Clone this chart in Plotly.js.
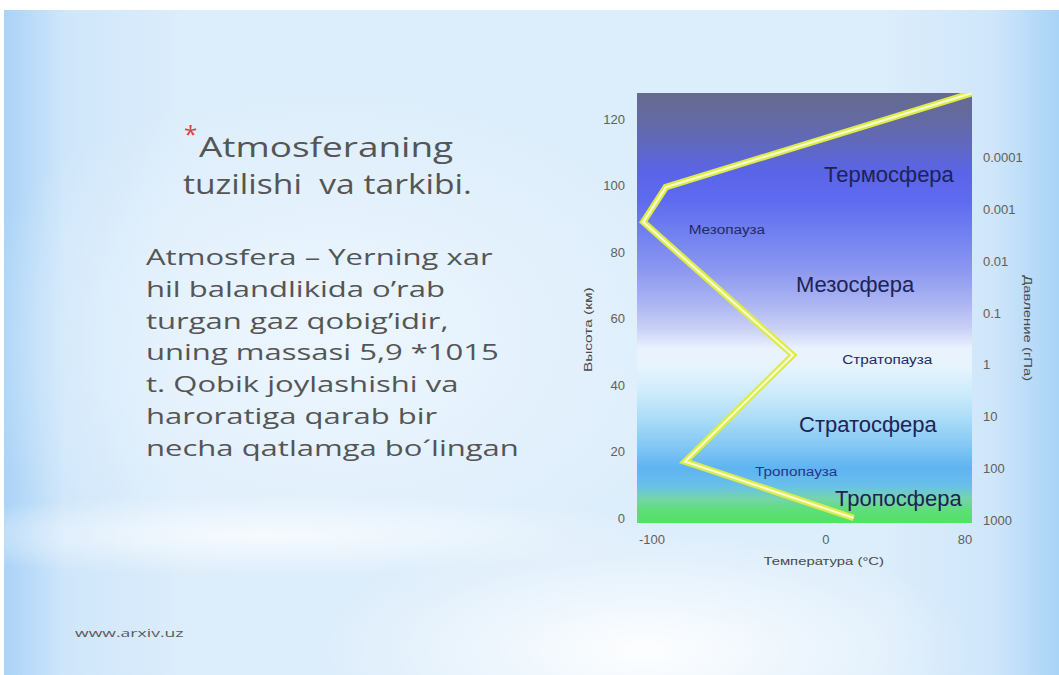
<!DOCTYPE html>
<html>
<head>
<meta charset="utf-8">
<script src="https://cdn.plot.ly/plotly-3.0.1.min.js"></script>
<style>
  html, body { margin: 0; padding: 0; width: 1059px; height: 675px; overflow: hidden; background: #ffffff; }
  #slide {
    position: absolute; left: 4px; top: 10px; width: 1055px; height: 665px;
    background:
      radial-gradient(ellipse 330px 120px at 640px 640px, rgba(255,255,255,0.95), rgba(255,255,255,0) 100%),
      radial-gradient(ellipse 420px 40px at 260px 525px, rgba(255,255,255,0.7), rgba(255,255,255,0) 100%),
      radial-gradient(ellipse 380px 260px at 330px 330px, rgba(240,248,255,0.85), rgba(240,248,255,0) 100%),
      linear-gradient(to right, #a9d3f7 0px, #cfe6fa 60px, #dcedfb 180px, #dcedfb 880px, #cfe6fa 990px, #a9d3f7 1055px);
  }
  #chart { position: absolute; left: 0; top: 0; width: 1059px; height: 675px; }
</style>
</head>
<body>
<div id="slide"></div>
<div id="chart"></div>
<script>
// Temperature profile of the atmosphere (altitude in km, temperature in °C)
const altitudeKm = [0, 17, 49, 89, 99.5, 131];
const temperatureC = [16, -81, -19, -105, -92, 104];

// Layer names and where they are written on the chart
const layerNames = ['Термосфера', 'Мезосфера', 'Стратосфера', 'Тропосфера'];
const layerTemps = [36.5, 17.2, 24.7, 42.0];
const layerAlts = [103.2, 70.1, 28.0, 6.0];

const pauseNames = ['Мезопауза', 'Стратопауза', 'Тропопауза'];
const pauseTemps = [-56.9, 35.6, -16.7];
const pauseAlts = [86.6, 47.5, 13.8];

// Axis ticks
const altTicks = [0, 20, 40, 60, 80, 100, 120];
const tempTicks = [-100, 0, 80];
const tempTickText = ['-100', '0', '80'];
const pressureTicks = [0.0001, 0.001, 0.01, 0.1, 1, 10, 100, 1000];
const pressureTickText = ['0.0001', '0.001', '0.01', '0.1', '1', '10', '100', '1000'];

// Sky colour by altitude for the backdrop
const bandAlts = [-3, 2, 6, 10, 15, 22, 30, 38, 46, 51, 57, 65, 75, 86, 96, 104, 112, 120, 131];
const bandColors = ['#4fe064', '#5cdf74', '#74d4ac', '#68c0ea', '#5fb3f1', '#84c8f5', '#abdcf8',
  '#cdecfb', '#e7f4fd', '#e9f2fd', '#c9d0f6', '#abb4f2', '#8b97f0', '#7180f0', '#5e6af0',
  '#5a64e8', '#6068c2', '#646aa2', '#666a88'];

// Slide text
const titleLines = ['Atmosferaning', 'tuzilishi  va tarkibi.'];
const bodyLines = [
  'Atmosfera – Yerning xar',
  'hil balandlikida o’rab',
  'turgan gaz qobig’idir,',
  'uning massasi 5,9 *1015',
  't. Qobik joylashishi va',
  'haroratiga qarab bir',
  'necha qatlamga bo´lingan'
];
const footerText = 'www.arxiv.uz';

// Plot frame in page pixels
const W = 1059, H = 675;
const frame = { l: 637, r: 972, t: 93, b: 523 };
const px = x => (x - frame.l) / (frame.r - frame.l);
const py = y => (frame.b - y) / (frame.b - frame.t);

const zMin = bandAlts[0], zMax = bandAlts[bandAlts.length - 1];
const colorscale = bandAlts.map((a, i) => [(a - zMin) / (zMax - zMin), bandColors[i]]);

const traces = [
  {
    type: 'heatmap',
    x: [-115, 90],
    y: bandAlts,
    z: bandAlts.map(a => [a, a]),
    zmin: zMin, zmax: zMax,
    colorscale: colorscale,
    zsmooth: 'best',
    showscale: false,
    hoverinfo: 'skip'
  },
  {
    type: 'scatter', mode: 'lines',
    x: temperatureC, y: altitudeKm,
    line: { color: '#dcec46', width: 6.5 },
    hoverinfo: 'skip', showlegend: false
  },
  {
    type: 'scatter', mode: 'lines',
    x: temperatureC, y: altitudeKm,
    line: { color: '#f7f9cf', width: 2.2 },
    hoverinfo: 'skip', showlegend: false
  },
  // pressure scale on the right (no marks of its own)
  {
    type: 'scatter', mode: 'lines',
    x: [null], y: [1], yaxis: 'y2',
    hoverinfo: 'skip', showlegend: false
  }
];

const slideFont = 'Open Sans, Noto Sans, sans-serif';
const chartFont = 'Liberation Sans, Arial, sans-serif';
const textColor = '#555555';
const annotations = [];
const widen = {};   // annotation index -> horizontal widening of its text

function addNote(note, factor) {
  if (factor) widen[annotations.length] = factor;
  annotations.push(Object.assign({ showarrow: false }, note));
}

function slideText(text, x, y, size, color, factor) {
  addNote({
    xref: 'paper', yref: 'paper', x: px(x), y: py(y),
    xanchor: 'left', yanchor: 'middle', align: 'left',
    text: text, font: { family: slideFont, size: size, color: color }
  }, factor);
}

addNote({
  xref: 'paper', yref: 'paper', x: px(182), y: py(133),
  xanchor: 'left', yanchor: 'middle', text: '*',
  font: { family: slideFont, size: 24, color: '#d2453f' }
});
slideText(titleLines[0], 197, 146, 28, textColor, 1.32);
slideText(titleLines[1], 181, 183, 28, textColor, 1.2);
bodyLines.forEach((line, i) => slideText(line, 144, 256 + i * 31.8, 22, textColor, 1.41));
slideText(footerText, 73, 632, 11, '#5a5a5a', 1.6);

layerNames.forEach((name, i) => addNote({
  x: layerTemps[i], y: layerAlts[i], xref: 'x', yref: 'y',
  text: name, xanchor: 'center', yanchor: 'middle', align: 'center',
  font: { family: chartFont, size: 22, color: '#1c2356' }
}));
pauseNames.forEach((name, i) => addNote({
  x: pauseTemps[i], y: pauseAlts[i], xref: 'x', yref: 'y',
  text: name, xanchor: 'center', yanchor: 'middle', align: 'center',
  font: { family: chartFont, size: 12, color: i === 2 ? '#24368a' : '#1f2a66' }
}, 1.28));

// Axis titles
const titleFont = { family: chartFont, size: 11, color: '#4a4a4a' };
addNote({
  xref: 'paper', yref: 'paper', x: px(588), y: py(330), textangle: -90,
  xanchor: 'center', yanchor: 'middle',
  text: 'Высота (км)', align: 'center', font: titleFont
}, 1.4);
addNote({
  xref: 'paper', yref: 'paper', x: px(1028), y: py(328), textangle: 90,
  xanchor: 'center', yanchor: 'middle',
  text: 'Давление (гПа)', align: 'center', font: titleFont
}, 1.35);
addNote({
  xref: 'paper', yref: 'paper', x: px(823), y: py(561),
  xanchor: 'center', yanchor: 'middle',
  text: 'Температура (°C)', align: 'center', font: titleFont
}, 1.35);

const tickFont = { family: chartFont, size: 13, color: '#606060' };
const layout = {
  width: W, height: H,
  margin: { l: frame.l, r: W - frame.r, t: frame.t, b: H - frame.b, pad: 0 },
  paper_bgcolor: 'rgba(0,0,0,0)',
  plot_bgcolor: 'rgba(0,0,0,0)',
  showlegend: false,
  xaxis: {
    range: [-108.6, 84], tickvals: tempTicks, ticktext: tempTickText,
    showgrid: false, zeroline: false, showline: false, ticks: '',
    ticklabelstandoff: 7, tickfont: tickFont, fixedrange: true
  },
  yaxis: {
    range: [-1.5, 127.8], tickvals: altTicks,
    showgrid: false, zeroline: false, showline: false, ticks: '',
    ticklabelstandoff: 11, tickfont: tickFont, fixedrange: true
  },
  yaxis2: {
    overlaying: 'y', side: 'right', type: 'log', range: [3.04, -5.23],
    tickvals: pressureTicks, ticktext: pressureTickText,
    showgrid: false, zeroline: false, showline: false, ticks: '',
    ticklabelstandoff: 10, tickfont: tickFont, fixedrange: true
  },
  annotations: annotations
};

// Widen selected texts about their anchor, as they are set on the slide
function widenTexts() {
  document.querySelectorAll('#chart g.annotation').forEach(g => {
    const idx = +g.getAttribute('data-index');
    const factor = widen[idx];
    if (!factor) return;
    const t = g.querySelector('text.annotation-text');
    if (!t) return;
    const len = t.getComputedTextLength();
    t.setAttribute('textLength', (len * factor).toFixed(1));
    t.setAttribute('lengthAdjust', 'spacingAndGlyphs');
  });
}

Plotly.newPlot('chart', traces, layout, { displayModeBar: false, staticPlot: true })
  .then(widenTexts);
</script>
</body>
</html>
